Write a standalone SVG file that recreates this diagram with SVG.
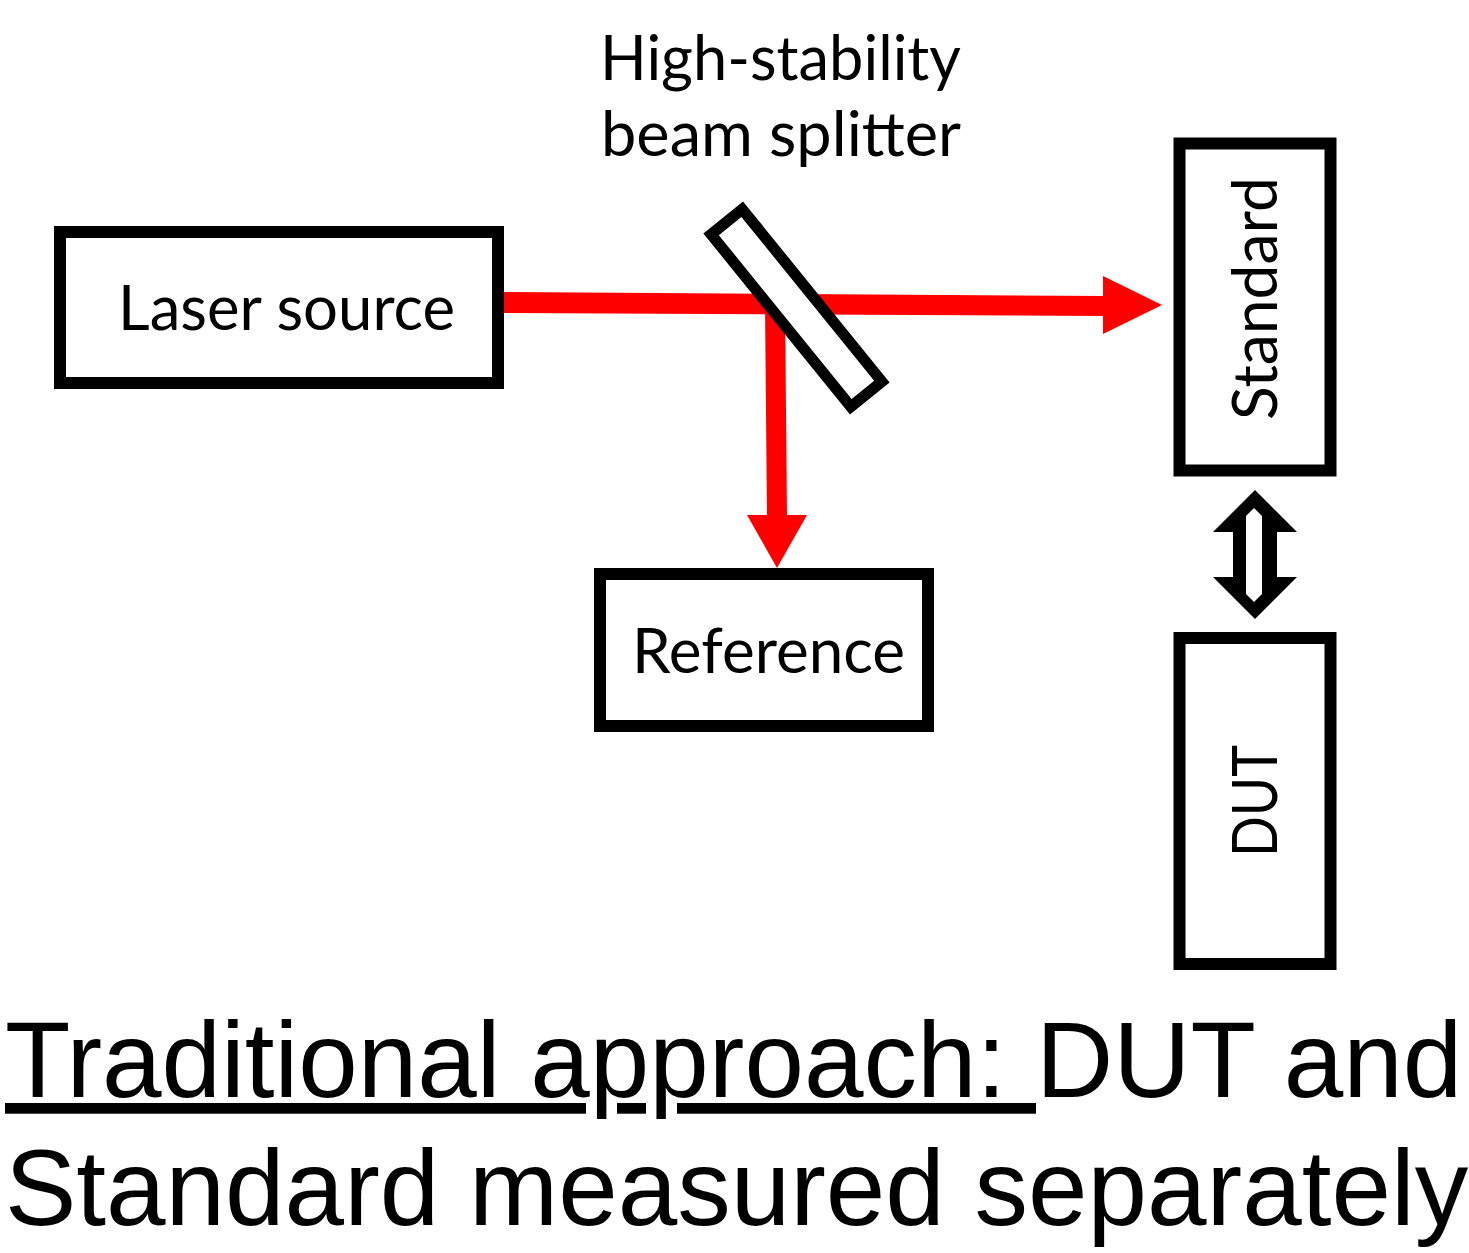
<svg xmlns="http://www.w3.org/2000/svg" width="1469" height="1253" viewBox="0 0 1469 1253">
<style>
.box{fill:#fff;stroke:#000;stroke-width:12}
.lbl{font-family:Lato,"Open Sans","Liberation Sans",sans-serif;font-size:62px;fill:#000}
.cap{font-family:"Liberation Sans",Arial,sans-serif;font-size:107px;fill:#000}
.beam{fill:#ff0000;stroke:none}
</style>
<rect width="1469" height="1253" fill="#fff"/>
<g id="connectors">
  <polygon class="beam" points="504,292 1105,296 1105,316 504,313"/>
  <polygon class="beam" points="1103,276 1162,305 1103,334"/>
  <polygon class="beam" points="765,304 785,304 787,517 767,517"/>
  <polygon class="beam" points="747,515 807,515 777,568"/>
  <g id="double-arrow">
    <polygon fill="#000" points="1255,490 1297,532 1277,532 1277,577 1297,577 1255,619 1213,577 1233,577 1233,532 1213,532"/>
    <polygon fill="#fff" points="1254,508 1262,516 1262,594 1254,602 1246,594 1246,516"/>
  </g>
</g>
<g id="beam-splitter">
  <rect x="-111" y="-20" width="222" height="40" transform="translate(796.5,308) rotate(51)" fill="#fff" stroke="#000" stroke-width="11"/>
  <text class="lbl" x="600" y="80" font-size="64" textLength="361" lengthAdjust="spacingAndGlyphs">High-stability</text>
  <text class="lbl" x="601" y="156" font-size="64" textLength="360" lengthAdjust="spacingAndGlyphs">beam splitter</text>
</g>
<g id="laser-source">
  <rect class="box" x="60" y="232" width="438" height="151"/>
  <text class="lbl" x="118" y="330" textLength="337" lengthAdjust="spacingAndGlyphs">Laser source</text>
</g>
<g id="reference">
  <rect class="box" x="600" y="574" width="328" height="152"/>
  <text class="lbl" x="632" y="673" textLength="273" lengthAdjust="spacingAndGlyphs">Reference</text>
</g>
<g id="standard">
  <rect class="box" x="1179.5" y="143.5" width="151" height="327"/>
  <text class="lbl" x="0" y="0" text-anchor="middle" transform="translate(1277,298.5) rotate(-90)" textLength="243" lengthAdjust="spacingAndGlyphs">Standard</text>
</g>
<g id="dut">
  <rect class="box" x="1179.5" y="638" width="151" height="326"/>
  <text class="lbl" x="0" y="0" text-anchor="middle" transform="translate(1277,801) rotate(-90)" textLength="112" lengthAdjust="spacingAndGlyphs">DUT</text>
</g>
<g id="caption">
  <text class="cap" x="5" y="1097"><tspan text-decoration="underline">Traditional approach: </tspan>DUT and</text>
  <text class="cap" x="5" y="1225">Standard measured separately</text>
</g>
</svg>
